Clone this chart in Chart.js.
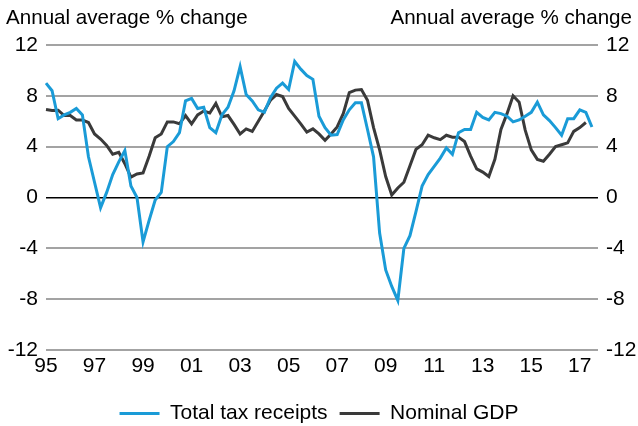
<!DOCTYPE html>
<html>
<head>
<meta charset="utf-8">
<script src="https://cdn.jsdelivr.net/npm/chart.js@4/dist/chart.umd.min.js"></script>
<style>
  html, body { margin: 0; padding: 0; background: #fff; }
  #wrap { width: 638px; height: 426px; }
</style>
</head>
<body>
<div id="wrap"><canvas id="myChart"></canvas></div>
<script>
// quarterly, 1995Q1 .. 2017Q4
const quarters = [];
for (let y = 1995; y <= 2017; y++) {
  for (let q = 1; q <= 4; q++) quarters.push(y + 'Q' + q);
}

const taxReceipts = [
  9.0, 8.4, 6.2, 6.5, 6.7, 7.0, 6.5, 3.2, 1.2, -0.8,
  0.4, 1.8, 2.8, 3.7, 0.9, 0.0, -3.5, -1.8, -0.2, 0.4,
  4.0, 4.4, 5.1, 7.6, 7.8, 7.0, 7.1, 5.5, 5.1, 6.5,
  7.1, 8.4, 10.3, 8.1, 7.6, 6.9, 6.7, 7.85, 8.6, 9.0,
  8.5, 10.7, 10.1, 9.6, 9.3, 6.4, 5.5, 4.9, 4.95, 6.1,
  6.9, 7.45, 7.45, 5.35, 3.2, -2.8, -5.7, -7.0, -8.1, -4.0,
  -3.0, -1.1, 0.9, 1.8, 2.45, 3.1, 3.9, 3.4, 5.1, 5.35,
  5.35, 6.7, 6.3, 6.1, 6.7, 6.6, 6.4, 5.95, 6.1, 6.4,
  6.7, 7.5, 6.5, 6.05, 5.5, 4.9, 6.2, 6.2, 6.9, 6.7,
  5.55
];

const nominalGDP = [
  6.93, 6.85, 6.87, 6.45, 6.45, 6.1, 6.1, 5.9, 5.0, 4.6,
  4.1, 3.4, 3.55, 2.66, 1.6, 1.85, 1.93, 3.25, 4.7, 5.0,
  5.95, 5.95, 5.8, 6.45, 5.8, 6.5, 6.8, 6.65, 7.4, 6.35,
  6.45, 5.75, 5.0, 5.4, 5.2, 6.0, 6.8, 7.65, 8.1, 7.95,
  7.0, 6.4, 5.8, 5.15, 5.4, 5.0, 4.5, 5.0, 5.55, 6.6,
  8.25, 8.45, 8.5, 7.65, 5.5, 3.75, 1.65, 0.2, 0.75, 1.2,
  2.5, 3.8, 4.15, 4.9, 4.7, 4.55, 4.9, 4.75, 4.75, 4.4,
  3.25, 2.25, 2.0, 1.65, 3.0, 5.35, 6.6, 8.0, 7.5, 5.3,
  3.75, 3.0, 2.85, 3.4, 4.0, 4.15, 4.3, 5.2, 5.5, 5.9
];

const yTicks = [-12, -8, -4, 0, 4, 8, 12];
const axisTitle = 'Annual average % change';

const FONT = '"Liberation Sans", Arial, sans-serif';
const blue = '#1a9bd7';
const dark = '#3a3a3a';
const gridGrey = '#a3a3a3';

// the two axis captions above the plot
const captions = {
  id: 'captions',
  afterDraw(chart) {
    const c = chart.ctx;
    c.save();
    c.font = '20.6px ' + FONT;
    c.fillStyle = '#000';
    c.textBaseline = 'middle';
    c.textAlign = 'left';
    c.fillText(axisTitle, 6, 18);
    c.textAlign = 'right';
    c.fillText(axisTitle, 632, 18);
    c.restore();
  }
};

Chart.defaults.font.family = FONT;
Chart.defaults.font.size = 21;
Chart.defaults.color = '#000';

new Chart(document.getElementById('myChart'), {
  type: 'line',
  data: {
    labels: quarters,
    datasets: [{
      label: 'Total tax receipts',
      data: taxReceipts,
      borderColor: blue,
      backgroundColor: blue,
      borderWidth: 3,
      pointRadius: 0,
      tension: 0,
      yAxisID: 'y'
    }, {
      label: 'Nominal GDP',
      data: nominalGDP,
      borderColor: dark,
      backgroundColor: dark,
      borderWidth: 3,
      pointRadius: 0,
      tension: 0,
      yAxisID: 'y'
    }]
  },
  options: {
    responsive: true,
    maintainAspectRatio: false,
    animation: false,
    layout: { padding: { top: 45, left: 0, right: 0, bottom: -8 } },
    plugins: {
      legend: {
        position: 'bottom',
        labels: {
          usePointStyle: true,
          pointStyle: 'line',
          pointStyleWidth: 40,
          padding: 12,
          font: { size: 21 }
        }
      },
      tooltip: { enabled: false }
    },
    scales: {
      x: {
        grid: { display: false, drawTicks: false },
        border: { display: false },
        ticks: {
          autoSkip: false,
          maxRotation: 0,
          padding: 4,
          callback: function(val, index) {
            const q = quarters[index];
            const yr = parseInt(q.slice(0, 4));
            if (q.endsWith('Q1') && yr % 2 === 1) return q.slice(2, 4);
            return '';
          }
        },
        afterFit(axis) { axis.height = 41; }
      },
      y: {
        position: 'left',
        min: -12,
        max: 12,
        border: { display: false },
        grid: {
          drawTicks: false,
          color: ctx => ctx.tick && ctx.tick.value === 0 ? '#000' : gridGrey,
          lineWidth: ctx => ctx.tick && ctx.tick.value === 0 ? 1.5 : 2
        },
        afterBuildTicks(axis) { axis.ticks = yTicks.map(v => ({ value: v })); },
        ticks: { padding: 8 },
        afterFit(axis) { axis.width = 46; }
      },
      y2: {
        position: 'right',
        min: -12,
        max: 12,
        border: { display: false },
        grid: { display: false, drawTicks: false },
        afterBuildTicks(axis) { axis.ticks = yTicks.map(v => ({ value: v })); },
        ticks: { padding: 8 },
        afterFit(axis) { axis.width = 40; }
      }
    }
  },
  plugins: [captions]
});
</script>
</body>
</html>
